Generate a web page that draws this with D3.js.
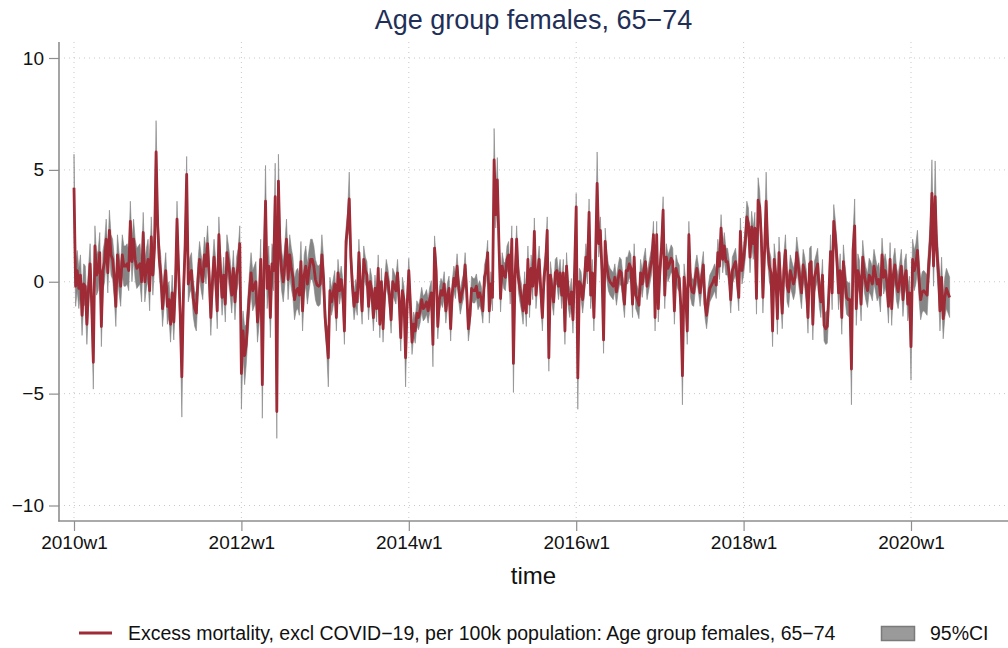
<!DOCTYPE html>
<html><head><meta charset="utf-8">
<script src="https://cdn.jsdelivr.net/npm/d3@7"></script>
<style>
html,body{margin:0;padding:0;background:#fff;}
svg{display:block;font-family:"Liberation Sans",Arial,Helvetica,sans-serif;}
</style></head>
<body><svg id="chart" width="1008" height="648"></svg>
<script>
// ---- data (weekly, starting 2010w1, 52 weeks per year) ----
const chartTitle = "Age group females, 65\u221274";
const xTitle = "time";
const seriesLabel = "Excess mortality, excl COVID\u221219, per 100k population: Age group females, 65\u221274";
const ciLabel = "95%CI";
const xTickWeeks = [0, 104, 208, 312, 416, 520];
const xTickLabels = ["2010w1", "2012w1", "2014w1", "2016w1", "2018w1", "2020w1"];
const yTicks = [-10, -5, 0, 5, 10];

const excess = [
 4.2,-0.2,0.5,-0.3,0.3,-1.5,-0.1,-0.2,-1.9,-0.3,
 0.8,-1.0,-3.6,1.6,0.3,0.5,1.3,-2.0,0.5,0.9,
 1.9,0.4,2.3,1.2,1.0,0.2,-1.1,1.2,0.4,-0.2,
 1.2,0.7,0.7,0.8,0.5,2.7,0.9,1.9,1.0,0.6,
 0.7,0.8,0.0,2.2,0.0,0.6,1.0,-0.4,2.0,0.3,
 1.5,5.8,2.5,1.0,0.3,-1.2,-0.3,0.5,-1.1,-0.8,
 -1.9,-0.5,-1.8,-0.2,2.8,0.5,-1.5,-4.25,-0.5,1.5,
 4.8,-0.1,0.3,0.5,-0.7,-1.2,-1.4,0.1,1.0,0.4,
 0.0,1.2,0.7,1.7,0.2,-1.6,0.0,1.1,0.2,-1.3,
 2.1,0.5,-0.7,0.3,-1.0,1.3,0.8,0.2,-0.6,0.6,
 -0.9,0.3,0.7,1.7,-4.1,-2.2,-3.3,-2.8,-1.6,-0.5,
 0.4,-0.4,-0.2,0.0,-1.8,-1.0,1.0,-4.6,0.5,3.6,
 -0.3,0.7,-1.6,0.8,0.5,3.8,-5.8,4.5,1.4,0.5,
 0.0,0.8,1.9,0.1,1.2,0.6,0.2,-0.8,-0.4,-0.3,
 -0.6,0.9,-1.3,0.3,0.7,-0.1,0.5,1.0,1.0,0.7,
 0.1,-0.15,-0.2,-0.1,1.2,0.2,-1.6,-2.5,-3.4,-0.4,
 -0.9,-0.5,-0.1,-1.6,0.4,-0.4,0.1,-0.5,-2.2,1.8,
 2.5,3.7,1.1,-0.2,-1.1,-0.5,-0.9,1.3,-0.2,-1.3,
 1.0,0.5,0.3,-1.1,0.0,-0.4,-1.6,-0.3,-1.2,0.6,
 -1.9,0.0,-2.1,-0.5,0.4,0.0,-0.6,-1.7,0.0,-0.2,
 -0.4,0.4,-0.8,-2.5,-0.4,-0.8,-3.4,-1.0,0.5,-1.0,
 -2.7,-1.9,-2.2,-1.4,-1.6,-1.3,-0.8,-1.2,-1.1,-0.9,
 -1.3,-0.8,-0.5,-2.8,1.5,0.5,-2.0,-0.8,-0.4,-0.6,
 -0.1,-1.3,-0.6,-0.3,-2.1,-0.5,0.15,-0.2,0.7,-0.3,
 -0.9,-0.5,-0.2,0.75,-0.5,-2.1,-1.5,-0.3,-0.4,-0.4,
 -0.2,-0.7,-0.5,-0.75,-1.3,0.2,0.5,1.3,-1.3,-0.1,
 -0.7,5.45,3.0,4.55,1.7,-0.75,0.7,0.3,0.2,1.0,
 1.2,-0.4,1.9,-3.65,0.2,1.9,0.2,-0.3,-0.7,-1.3,
 -0.15,-1.4,1.0,-1.0,0.6,-0.2,2.25,-0.6,0.3,1.0,
 -0.4,-1.6,0.2,0.8,2.3,-3.4,0.3,-0.4,-0.9,0.4,
 0.5,-0.2,0.4,-0.6,0.4,-2.2,0.7,-0.5,-1.0,-0.45,
 -1.7,0.5,3.35,-4.3,0.0,-0.15,-0.8,-0.1,1.1,0.5,
 3.1,-0.6,0.4,-1.6,1.0,4.4,1.7,2.3,0.5,-2.6,
 1.8,0.7,0.2,0.0,-0.1,-0.2,0.2,-0.45,0.1,0.5,
 0.4,-0.3,-1.0,0.5,0.5,0.8,0.6,-1.0,1.1,-0.6,
 -0.8,-1.05,0.4,-0.1,0.5,0.9,-0.2,0.2,0.6,1.0,
 2.1,-1.6,2.1,-1.2,0.5,1.5,3.2,-0.6,1.1,0.6,
 0.8,1.05,0.9,-1.3,0.6,0.3,0.15,-1.1,-4.2,0.2,
 -0.5,-2.2,2.1,-0.1,-0.45,-0.5,0.2,0.6,0.1,-0.5,
 0.2,0.75,-1.0,-1.5,-0.8,-0.3,-0.15,0.0,0.2,-0.15,
 1.3,0.7,2.4,1.0,1.6,0.9,0.9,0.4,-0.8,0.5,
 0.7,0.9,0.2,-0.7,2.25,0.5,1.0,1.7,2.9,2.6,
 1.1,2.45,1.7,2.4,-0.75,3.65,3.35,2.0,-0.7,1.3,
 3.6,1.5,0.7,0.4,-2.2,1.0,0.3,-1.65,1.3,-0.1,
 -1.4,0.5,1.4,-0.2,-0.45,0.5,0.2,-0.1,0.2,1.3,
 0.7,0.1,-0.5,0.75,0.4,-0.2,-1.6,0.8,0.9,-1.9,
 0.2,0.5,0.8,-0.4,-0.9,0.3,-1.95,-2.1,-2.0,-0.5,
 1.35,-0.5,2.7,2.0,1.0,-0.5,0.5,-1.6,0.9,0.0,
 -0.7,-0.8,-0.8,-3.9,1.4,2.5,-1.2,0.5,0.2,-1.0,
 1.1,0.3,-0.1,-0.4,0.3,0.15,-0.1,0.7,0.3,-0.1,
 0.1,-0.6,1.2,0.2,0.5,0.0,-1.1,1.0,-1.2,0.3,
 0.75,-0.1,-0.45,0.1,0.7,-0.8,0.2,0.5,-1.0,-0.5,
 -2.9,1.0,0.5,0.8,1.4,0.1,-0.8,-0.45,-0.4,-0.5,
 -0.6,0.75,1.7,3.95,0.7,3.8,1.4,0.5,-1.3,0.2,
 -1.65,-0.7,-0.3,-0.5,-0.7
];
// typical half-width of the 95% CI in each year 2010..2020
const ciHalfByYear = [0.9, 0.8, 0.9, 0.6, 0.55, 0.6, 0.6, 0.6, 0.7, 0.75, 0.9];
// weeks where the CI is visibly wider: [week index, half-width]
const ciWide = [[0,1.5],[12,1.2],[51,1.4],[67,1.8],[104,1.6],[106,1.3],[117,1.5],[119,1.6],
 [125,1.5],[126,1.2],[127,1.2],[158,1.3],[171,1.2],[206,1.3],[223,1.0],[261,1.4],[263,1.0],
 [273,1.3],[313,1.4],[325,1.4],[378,1.3],[425,1.0],[430,1.3],[483,1.6],[485,1.2],[520,1.5],
 [533,1.5],[535,1.6]];

// ---- build rows ----
const wideMap = new Map(ciWide);
const rows = excess.map((v, i) => {
  const h = wideMap.has(i) ? wideMap.get(i) : ciHalfByYear[Math.floor(i / 52)];
  return {w: i, v: v, lo: v - h, hi: v + h};
});

// ---- layout ----
const svg = d3.select("#chart");
const plotLeft = 59, plotRight = 1008, plotTop = 42, plotBottom = 521;
const x = d3.scaleLinear().domain([0, 520]).range([74, 911]);
const y = d3.scaleLinear().domain([-10, 10]).range([505.5, 58]);

const axisCol = "#8e8e8e";
const gridCol = "#c8c8c8";

// gridlines
svg.append("g").selectAll("line").data(yTicks).join("line")
  .attr("x1", plotLeft).attr("x2", plotRight)
  .attr("y1", d => y(d)).attr("y2", d => y(d))
  .attr("stroke", gridCol).attr("stroke-width", 1).attr("stroke-dasharray", "1,4");
svg.append("g").selectAll("line").data(xTickWeeks).join("line")
  .attr("x1", d => x(d)).attr("x2", d => x(d))
  .attr("y1", plotTop).attr("y2", plotBottom)
  .attr("stroke", gridCol).attr("stroke-width", 1).attr("stroke-dasharray", "1,4");

// CI band
const area = d3.area().x(d => x(d.w)).y0(d => y(d.lo)).y1(d => y(d.hi));
svg.append("path").datum(rows).attr("d", area)
  .attr("fill", "#858585").attr("stroke", "#858585").attr("stroke-width", 0.6);

// line
const line = d3.line().x(d => x(d.w)).y(d => y(d.v));
svg.append("path").datum(rows).attr("d", line)
  .attr("fill", "none").attr("stroke", "#9e2b36").attr("stroke-width", 2.8)
  .attr("stroke-linejoin", "round");

// axes
const yAxis = d3.axisLeft(y).tickValues(yTicks).tickSize(10).tickPadding(5)
  .tickFormat(d => d < 0 ? "\u2212" + Math.abs(d) : String(d));
const gy = svg.append("g").attr("transform", `translate(${plotLeft},0)`).call(yAxis);
gy.select(".domain").remove();
gy.selectAll(".tick line").attr("stroke", axisCol).attr("stroke-width", 1.2);
gy.selectAll(".tick text").attr("font-size", 19).attr("fill", "#111")
  .attr("font-family", "Liberation Sans, Arial, sans-serif");
svg.append("line").attr("x1", plotLeft).attr("x2", plotLeft).attr("y1", plotTop).attr("y2", plotBottom + 0.5)
  .attr("stroke", axisCol).attr("stroke-width", 1.6);

const xAxis = d3.axisBottom(x).tickValues(xTickWeeks).tickSize(10).tickPadding(5)
  .tickFormat((d, i) => xTickLabels[i]);
const gx = svg.append("g").attr("transform", `translate(0,${plotBottom})`).call(xAxis);
gx.select(".domain").remove();
gx.selectAll(".tick line").attr("stroke", axisCol).attr("stroke-width", 1.2);
gx.selectAll(".tick text").attr("font-size", 19).attr("fill", "#111")
  .attr("font-family", "Liberation Sans, Arial, sans-serif");
svg.append("line").attr("x1", plotLeft - 0.8).attr("x2", plotRight).attr("y1", plotBottom).attr("y2", plotBottom)
  .attr("stroke", axisCol).attr("stroke-width", 1.6);

// titles
svg.append("text").attr("x", (plotLeft + plotRight) / 2).attr("y", 29)
  .attr("text-anchor", "middle").attr("font-size", 27).attr("fill", "#1f2f57").text(chartTitle);
svg.append("text").attr("x", (plotLeft + plotRight) / 2).attr("y", 584)
  .attr("text-anchor", "middle").attr("font-size", 24).attr("fill", "#111").text(xTitle);

// legend
const lg = svg.append("g");
lg.append("line").attr("x1", 79).attr("x2", 112).attr("y1", 633).attr("y2", 633)
  .attr("stroke", "#9e2b36").attr("stroke-width", 2.8);
lg.append("text").attr("x", 128).attr("y", 640).attr("font-size", 19.5).attr("fill", "#111").text(seriesLabel);
lg.append("rect").attr("x", 881.5).attr("y", 626.5).attr("width", 33).attr("height", 14)
  .attr("fill", "#9a9a9a").attr("stroke", "#7a7a7a").attr("stroke-width", 1.5);
lg.append("text").attr("x", 930).attr("y", 640).attr("font-size", 19.5).attr("fill", "#111").text(ciLabel);
</script></body></html>
